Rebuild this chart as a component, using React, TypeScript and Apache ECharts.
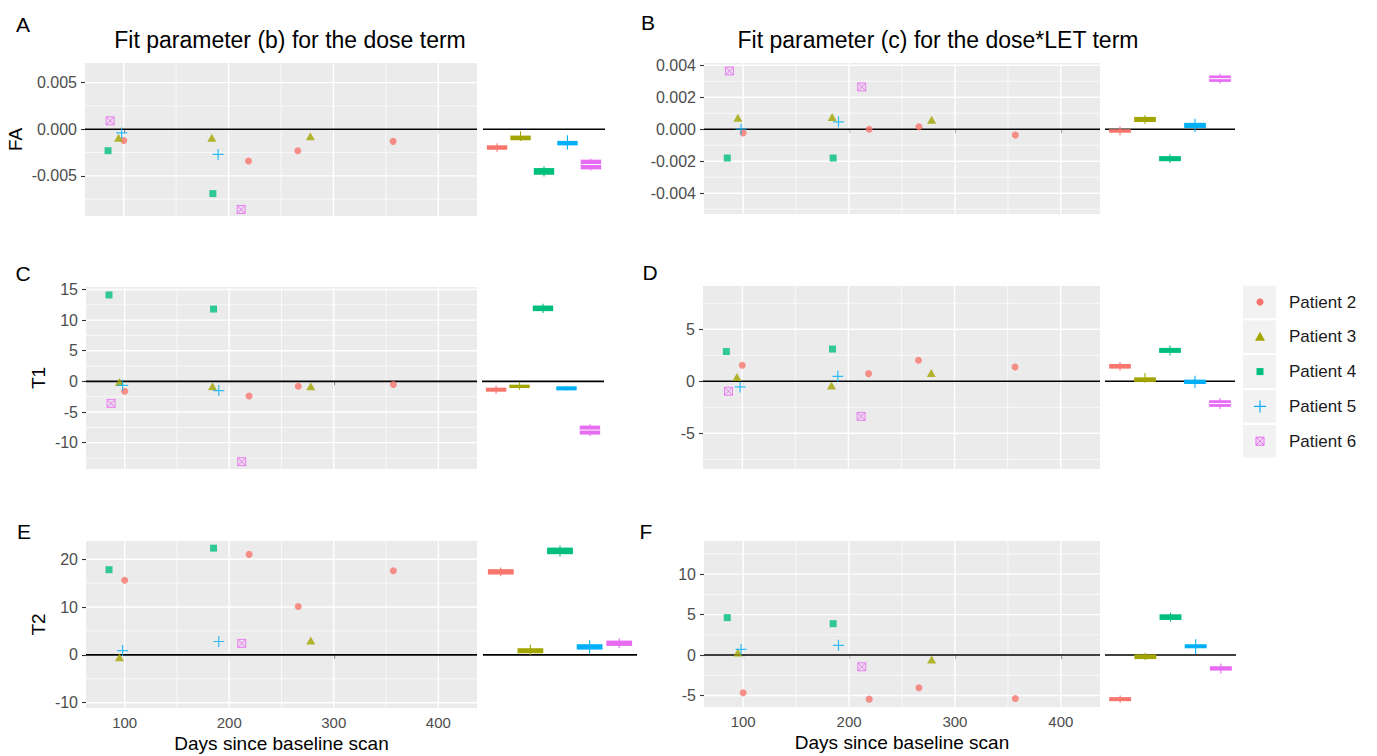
import React, { useEffect, useRef } from "react";
import * as echarts from "echarts";

// ---------- data ----------
const patients = ["Patient 2", "Patient 3", "Patient 4", "Patient 5", "Patient 6"];
const colors = ["#F8766D", "#A3A500", "#00BF7D", "#00B0F6", "#E76BF3"];

// scan days per patient
const daysP2 = [100, 219, 266, 357];
const daysP3 = [95, 184, 278];
const daysP4 = [85, 185];
const daysP5 = [98, 190];
const daysP6 = [87, 212];
const patientDays = [daysP2, daysP3, daysP4, daysP5, daysP6];

const xTicks = [100, 200, 300, 400];
const xMinor = [150, 250, 350];

// Panel A: FA, dose term
const aP2 = [-0.0012, -0.0034, -0.0023, -0.0013];
const aP3 = [-0.0009, -0.0009, -0.00075];
const aP4 = [-0.0023, -0.0069];
const aP5 = [-0.0004, -0.0027];
const aP6 = [0.0009, -0.0086];
const aMean = [-0.00196, -0.00093, -0.00452, -0.00149, -0.00378];
const aBox = [0.00024, 0.00025, 0.00036, 0.00024, 0.00052];
const aLo = [-0.00241, -0.00126, -0.00506, -0.00218, -0.00441];
const aHi = [-0.00151, -0.00022, -0.00398, -0.00065, -0.00315];

// Panel B: FA, dose*LET term
const bP2 = [-0.00023, 0.0, 0.00015, -0.00036];
const bP3 = [0.00071, 0.00077, 0.0006];
const bP4 = [-0.0018, -0.0018];
const bP5 = [0.0, 0.00046];
const bP6 = [0.00364, 0.00264];
const bMean = [-0.00011, 0.00061, -0.00184, 0.00024, 0.00316];
const bBox = [0.00011, 0.00016, 0.00016, 0.00016, 0.0002];
const bLo = [-0.00039, 0.00034, -0.00211, -0.00018, 0.00285];
const bHi = [0.00017, 0.00088, -0.00157, 0.00066, 0.00347];

// Panel C: T1, dose term
const cP2 = [-1.6, -2.4, -0.8, -0.5];
const cP3 = [-0.1, -0.8, -0.8];
const cP4 = [14.1, 11.8];
const cP5 = [-0.65, -1.5];
const cP6 = [-3.6, -13.1];
const cMean = [-1.36, -0.81, 11.92, -1.14, -7.95];
const cBox = [0.33, 0.27, 0.46, 0.33, 0.73];
const cLo = [-2.04, -1.35, 11.16, -1.47, -8.9];
const cHi = [-0.68, -0.16, 12.68, -0.81, -7.0];

// Panel D: T1, dose*LET term
const dP2 = [1.54, 0.74, 2.02, 1.38];
const dP3 = [0.42, -0.41, 0.8];
const dP4 = [2.86, 3.1];
const dP5 = [-0.54, 0.48];
const dP6 = [-0.96, -3.37];
const dMean = [1.44, 0.16, 2.97, -0.05, -2.14];
const dBox = [0.22, 0.22, 0.24, 0.21, 0.32];
const dLo = [1.02, -0.15, 2.49, -0.63, -2.67];
const dHi = [1.86, 0.8, 3.45, 0.53, -1.61];

// Panel E: T2, dose term
const eP2 = [15.6, 21.0, 10.1, 17.6];
const eP3 = [-0.5, null, 3.0];
const eP4 = [17.8, 22.3];
const eP5 = [0.9, 2.8];
const eP6 = [null, 2.4];
const eMean = [17.35, 0.87, 21.73, 1.67, 2.43];
const eBox = [0.56, 0.52, 0.69, 0.56, 0.56];
const eLo = [16.45, 0.0, 20.58, 0.28, 1.46];
const eHi = [18.25, 2.1, 22.88, 3.06, 3.4];

// Panel F: T2, dose*LET term
const fP2 = [-4.67, -5.45, -4.05, -5.37];
const fP3 = [0.33, null, -0.54];
const fP4 = [4.63, 3.88];
const fP5 = [0.7, 1.2];
const fP6 = [null, -1.45];
const fMean = [-5.45, -0.21, 4.69, 1.09, -1.65];
const fBox = [0.25, 0.29, 0.35, 0.25, 0.27];
const fLo = [-5.9, -0.62, 4.13, 0.12, -2.27];
const fHi = [-5.0, 0.29, 5.25, 1.95, -1.03];

// axis ranges and ticks
const aY = { min: -0.0093, max: 0.0071, ticks: [-0.005, 0, 0.005], minor: [-0.0075, -0.0025, 0.0025] };
const bY = { min: -0.0053, max: 0.00414, ticks: [-0.004, -0.002, 0, 0.002, 0.004], minor: [-0.005, -0.003, -0.001, 0.001, 0.003] };
const cY = { min: -14.3, max: 15.4, ticks: [-10, -5, 0, 5, 10, 15], minor: [-12.5, -7.5, -2.5, 2.5, 7.5, 12.5] };
const dY = { min: -8.43, max: 9.16, ticks: [-5, 0, 5], minor: [-7.5, -2.5, 2.5, 7.5] };
const eY = { min: -11.1, max: 23.8, ticks: [-10, 0, 10, 20], minor: [-5, 5, 15] };
const fY = { min: -6.42, max: 14.1, ticks: [-5, 0, 5, 10], minor: [-2.5, 2.5, 7.5, 12.5] };

const titles = ["Fit parameter (b) for the dose term", "Fit parameter (c) for the dose*LET term"];
const xTitle = "Days since baseline scan";

// ---------- layout ----------
const FONT = "'Liberation Sans', Arial, sans-serif";

const panels = [
  { letter: "A", letterPos: [23, 24], vals: [aP2, aP3, aP4, aP5, aP6], sum: [aMean, aBox, aLo, aHi], y: aY, dec: 3,
    grid: { left: 85, top: 63, width: 392, height: 153 }, sgrid: { left: 483, top: 63, width: 122, height: 153 },
    yName: "FA", nameGap: 60, xLabels: false },
  { letter: "B", letterPos: [648, 22], vals: [bP2, bP3, bP4, bP5, bP6], sum: [bMean, bBox, bLo, bHi], y: bY, dec: 3,
    grid: { left: 704, top: 63, width: 396, height: 151 }, sgrid: { left: 1105, top: 63, width: 130, height: 151 },
    yName: "", nameGap: 0, xLabels: false },
  { letter: "C", letterPos: [23, 273], vals: [cP2, cP3, cP4, cP5, cP6], sum: [cMean, cBox, cLo, cHi], y: cY, dec: -1,
    grid: { left: 86, top: 287, width: 391, height: 182 }, sgrid: { left: 482, top: 287, width: 122, height: 182 },
    yName: "T1", nameGap: 38, xLabels: false },
  { letter: "D", letterPos: [650, 272], vals: [dP2, dP3, dP4, dP5, dP6], sum: [dMean, dBox, dLo, dHi], y: dY, dec: -1,
    grid: { left: 703, top: 286, width: 397, height: 183 }, sgrid: { left: 1105, top: 286, width: 130, height: 183 },
    yName: "", nameGap: 0, xLabels: false },
  { letter: "E", letterPos: [24, 531], vals: [eP2, eP3, eP4, eP5, eP6], sum: [eMean, eBox, eLo, eHi], y: eY, dec: -1,
    grid: { left: 86, top: 541, width: 391, height: 167 }, sgrid: { left: 483, top: 541, width: 154, height: 167 },
    yName: "T2", nameGap: 38, xLabels: true },
  { letter: "F", letterPos: [646, 531], vals: [fP2, fP3, fP4, fP5, fP6], sum: [fMean, fBox, fLo, fHi], y: fY, dec: -1,
    grid: { left: 704, top: 541, width: 396, height: 166 }, sgrid: { left: 1105, top: 541, width: 131, height: 166 },
    yName: "", nameGap: 0, xLabels: true },
];

const symbols: any[] = [
  { symbol: "circle", size: 7, style: (c: string) => ({ color: c }) },
  { symbol: "triangle", size: [9, 8], style: (c: string) => ({ color: c }) },
  { symbol: "rect", size: 7, style: (c: string) => ({ color: c }) },
  { symbol: "path://M5,0L5,10M0,5L10,5", size: 11, style: (c: string) => ({ color: "rgba(0,0,0,0)", borderColor: c, borderWidth: 1.2 }) },
  { symbol: "path://M0,0L10,0L10,10L0,10ZM0,0L10,10M10,0L0,10", size: 8, style: (c: string) => ({ color: "rgba(231,107,243,0.15)", borderColor: c, borderWidth: 1 }) },
];

function buildOption() {
  const grid: any[] = [];
  const xAxis: any[] = [];
  const yAxis: any[] = [];
  const series: any[] = [];
  const graphic: any[] = [];

  panels.forEach((p, i) => {
    const gi = i * 2;
    const si = i * 2 + 1;
    grid.push({ ...p.grid, show: true, backgroundColor: "#EBEBEB", borderWidth: 0, containLabel: false });
    grid.push({ ...p.sgrid, show: false, containLabel: false });

    const fmt = (v: number) => (p.dec > 0 ? v.toFixed(p.dec) : String(v));

    xAxis.push({
      type: "value", gridIndex: gi, min: 63, max: 437,
      axisLine: { show: false },
      axisTick: { show: true, customValues: xTicks, length: 4, lineStyle: { color: "#333333", width: 1.1 } },
      axisLabel: { show: p.xLabels, customValues: xTicks, color: "#4D4D4D", fontSize: 15, fontFamily: FONT, margin: 7 },
      splitLine: { show: false },
      name: p.xLabels ? xTitle : "", nameLocation: "middle", nameGap: 26,
      nameTextStyle: { fontSize: 19, color: "#000", fontFamily: FONT },
    });
    yAxis.push({
      type: "value", gridIndex: gi, min: p.y.min, max: p.y.max,
      axisLine: { show: false },
      axisTick: { show: true, customValues: p.y.ticks, length: 4, lineStyle: { color: "#333333", width: 1.1 } },
      axisLabel: { show: true, customValues: p.y.ticks, color: "#4D4D4D", fontSize: 16, fontFamily: FONT, margin: 8, formatter: fmt },
      splitLine: { show: false },
      name: p.yName, nameLocation: "middle", nameRotate: 90, nameGap: p.nameGap,
      nameTextStyle: { fontSize: 19, color: "#000", fontFamily: FONT },
    });
    xAxis.push({ type: "value", gridIndex: si, min: 0.4, max: 5.6, show: false });
    yAxis.push({ type: "value", gridIndex: si, min: p.y.min, max: p.y.max, show: false });

    const yr = p.y;
    // grid lines + zero line of scatter panel
    series.push({
      type: "custom", xAxisIndex: gi, yAxisIndex: gi, silent: true, z: 1,
      data: [[200, 0]],
      renderItem: (params: any, api: any) => {
        const cs = params.coordSys;
        const ch: any[] = [];
        const vline = (v: number, w: number) => {
          const px = api.coord([v, 0])[0];
          ch.push({ type: "line", shape: { x1: px, y1: cs.y, x2: px, y2: cs.y + cs.height }, style: { stroke: "#FFFFFF", lineWidth: w } });
        };
        const hline = (v: number, w: number, col: string) => {
          const py = api.coord([200, v])[1];
          ch.push({ type: "line", shape: { x1: cs.x, y1: py, x2: cs.x + cs.width, y2: py }, style: { stroke: col, lineWidth: w } });
        };
        xMinor.forEach((v) => vline(v, 0.7));
        yr.minor.forEach((v) => hline(v, 0.7, "#FFFFFF"));
        xTicks.forEach((v) => vline(v, 1.4));
        yr.ticks.forEach((v) => hline(v, 1.4, "#FFFFFF"));
        hline(0, 1.6, "#000000");
        return { type: "group", children: ch };
      },
    });
    // zero line of summary panel
    series.push({
      type: "custom", xAxisIndex: si, yAxisIndex: si, silent: true, z: 1,
      data: [[3, 0]],
      renderItem: (params: any, api: any) => {
        const cs = params.coordSys;
        const py = api.coord([3, 0])[1];
        return { type: "line", shape: { x1: cs.x, y1: py, x2: cs.x + cs.width, y2: py }, style: { stroke: "#000000", lineWidth: 1.6 } };
      },
    });
    // summary marks
    const [mean, box, lo, hi] = p.sum;
    series.push({
      type: "custom", xAxisIndex: si, yAxisIndex: si, silent: true, z: 2,
      encode: { x: 0, y: 1 },
      data: mean.map((m, k) => [k + 1, m, box[k], lo[k], hi[k], k]),
      renderItem: (params: any, api: any) => {
        const x = api.value(0), m = api.value(1), b = api.value(2), l = api.value(3), h = api.value(4), ci = api.value(5);
        const c = api.coord([x, m]);
        const top = api.coord([x, m + b])[1];
        const bot = api.coord([x, m - b])[1];
        const w = api.size([0.87, 0])[0];
        const pl = api.coord([x, l])[1];
        const ph = api.coord([x, h])[1];
        const col = colors[ci];
        const ch: any[] = [
          { type: "line", shape: { x1: c[0], y1: ph, x2: c[0], y2: pl }, style: { stroke: col, lineWidth: 1.1 } },
          { type: "rect", shape: { x: c[0] - w / 2, y: top, width: w, height: Math.max(bot - top, 3) }, style: { fill: col } },
        ];
        if (ci === 4 && bot - top > 6) {
          ch.push({ type: "line", shape: { x1: c[0] - w / 2, y1: c[1], x2: c[0] + w / 2, y2: c[1] }, style: { stroke: "#FFFFFF", lineWidth: 1 } });
        }
        return { type: "group", children: ch };
      },
    });
    // scatter points
    p.vals.forEach((vals, k) => {
      const data = patientDays[k]
        .map((d, j) => [d, vals[j]])
        .filter((pt) => pt[1] !== null && pt[1] !== undefined);
      series.push({
        type: "scatter", name: patients[k], xAxisIndex: gi, yAxisIndex: gi, z: 3,
        symbol: symbols[k].symbol, symbolSize: symbols[k].size,
        itemStyle: symbols[k].style(colors[k]),
        data,
      });
    });

    graphic.push({
      type: "text", x: p.letterPos[0], y: p.letterPos[1],
      style: { text: p.letter, font: `21px ${FONT}`, fill: "#000", align: "center", verticalAlign: "middle" },
    });
  });

  // titles
  graphic.push({ type: "text", x: 290, y: 40, style: { text: titles[0], font: `23px ${FONT}`, fill: "#000", align: "center", verticalAlign: "middle" } });
  graphic.push({ type: "text", x: 938, y: 40, style: { text: titles[1], font: `23px ${FONT}`, fill: "#000", align: "center", verticalAlign: "middle" } });

  // legend
  patients.forEach((name, k) => {
    const yc = 302 + k * 34.8;
    const cx = 1260;
    const col = colors[k];
    graphic.push({ type: "rect", shape: { x: 1243, y: yc - 16.3, width: 33, height: 32.6 }, style: { fill: "#F2F2F2" } });
    let sym: any;
    if (k === 0) sym = { type: "circle", shape: { cx, cy: yc, r: 3.6 }, style: { fill: col } };
    else if (k === 1) sym = { type: "polygon", shape: { points: [[cx, yc - 5], [cx - 5, yc + 4], [cx + 5, yc + 4]] }, style: { fill: col } };
    else if (k === 2) sym = { type: "rect", shape: { x: cx - 3.5, y: yc - 3.5, width: 7, height: 7 }, style: { fill: col } };
    else if (k === 3) sym = { type: "group", children: [
      { type: "line", shape: { x1: cx - 6, y1: yc, x2: cx + 6, y2: yc }, style: { stroke: col, lineWidth: 1.2 } },
      { type: "line", shape: { x1: cx, y1: yc - 6, x2: cx, y2: yc + 6 }, style: { stroke: col, lineWidth: 1.2 } },
    ] };
    else sym = { type: "group", children: [
      { type: "rect", shape: { x: cx - 4, y: yc - 4, width: 8, height: 8 }, style: { fill: "rgba(231,107,243,0.15)", stroke: col, lineWidth: 1 } },
      { type: "line", shape: { x1: cx - 4, y1: yc - 4, x2: cx + 4, y2: yc + 4 }, style: { stroke: col, lineWidth: 1 } },
      { type: "line", shape: { x1: cx + 4, y1: yc - 4, x2: cx - 4, y2: yc + 4 }, style: { stroke: col, lineWidth: 1 } },
    ] };
    graphic.push(sym);
    graphic.push({ type: "text", x: 1289, y: yc, style: { text: name, font: `17px ${FONT}`, fill: "#1A1A1A", align: "left", verticalAlign: "middle" } });
  });

  return {
    animation: false,
    backgroundColor: "#FFFFFF",
    textStyle: { fontFamily: FONT },
    grid, xAxis, yAxis, series, graphic,
  };
}

export default function App() {
  const ref = useRef<HTMLDivElement>(null);
  useEffect(() => {
    if (!ref.current) return;
    const chart = echarts.init(ref.current, undefined, { renderer: "svg" });
    chart.setOption(buildOption() as any);
    return () => chart.dispose();
  }, []);
  return (
    <div
      ref={ref}
      style={{ position: "fixed", left: 0, top: 0, width: 1377, height: 756, background: "#fff" }}
    />
  );
}
